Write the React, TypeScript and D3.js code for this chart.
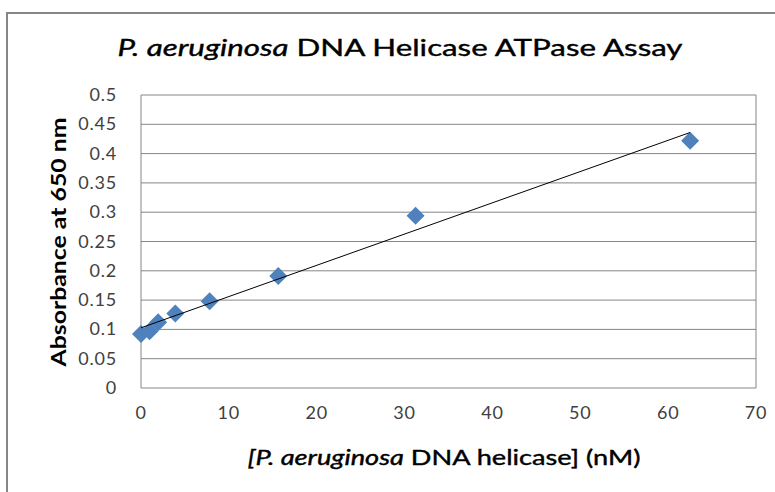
import React from "react";
import * as d3 from "d3";

const concentrations = [0, 0.977, 1.953, 3.906, 7.8125, 15.625, 31.25, 62.5];
const absorbance = [0.092, 0.097, 0.112, 0.127, 0.148, 0.191, 0.294, 0.422];
const xTicks = [0, 10, 20, 30, 40, 50, 60, 70];
const yTicks = [0, 0.05, 0.1, 0.15, 0.2, 0.25, 0.3, 0.35, 0.4, 0.45, 0.5];

const W = 775, H = 492;
const left = 141, right = 756, top = 95, bottom = 388;
const FONT = "Lato, 'Liberation Sans', sans-serif";

export default function App() {
  const x = d3.scaleLinear().domain([0, 70]).range([left, right]);
  const y = d3.scaleLinear().domain([0, 0.5]).range([bottom, top]);

  // least squares linear trendline
  const n = concentrations.length;
  const mx = d3.mean(concentrations) as number;
  const my = d3.mean(absorbance) as number;
  let sxy = 0, sxx = 0;
  for (let i = 0; i < n; i++) {
    sxy += (concentrations[i] - mx) * (absorbance[i] - my);
    sxx += (concentrations[i] - mx) ** 2;
  }
  const slope = sxy / sxx;
  const intercept = my - slope * mx;
  const xMin = d3.min(concentrations) as number;
  const xMax = d3.max(concentrations) as number;
  const line = d3.line<number>().x((d) => x(d)).y((d) => y(intercept + slope * d));

  const r = 9;
  const diamond = (cx: number, cy: number) =>
    `M${cx},${cy - r}L${cx + r},${cy}L${cx},${cy + r}L${cx - r},${cy}Z`;

  return (
    <svg width={W} height={H} style={{ position: "absolute", left: 0, top: 0, background: "#fff" }}>
      <rect x={7} y={13} width={W + 20} height={H + 20} fill="#fff" stroke="#868686" strokeWidth={2} />
      <text
        x={400}
        y={56}
        textAnchor="middle"
        fontFamily={FONT}
        fontSize={24}
        fill="#000"
        stroke="#000"
        strokeWidth={0.4}
        textLength={565}
        lengthAdjust="spacingAndGlyphs"
      >
        <tspan fontStyle="italic">P. aeruginosa</tspan> DNA Helicase ATPase Assay
      </text>
      {yTicks.map((t) => (
        <line key={"g" + t} x1={left} x2={right} y1={y(t)} y2={y(t)} stroke="#868686" strokeWidth={1} />
      ))}
      <line x1={left} x2={left} y1={top} y2={bottom} stroke="#868686" strokeWidth={1} />
      <line x1={right} x2={right} y1={top} y2={bottom} stroke="#868686" strokeWidth={1} />
      {yTicks.map((t) => (
        <text key={"yl" + t} x={117} y={y(t) + 6} textAnchor="end" fontFamily={FONT} fontSize={18} letterSpacing={0.8} fill="#404040">
          {String(t)}
        </text>
      ))}
      {xTicks.map((t) => (
        <text key={"xl" + t} x={x(t)} y={419} textAnchor="middle" fontFamily={FONT} fontSize={18} letterSpacing={0.8} fill="#404040">
          {String(t)}
        </text>
      ))}
      <text
        transform={`translate(66,242) rotate(-90)`}
        textAnchor="middle"
        fontFamily={FONT}
        fontSize={21}
        fontWeight="bold"
        fill="#000"
        textLength={249}
        lengthAdjust="spacingAndGlyphs"
      >
        Absorbance at 650 nm
      </text>
      <text
        x={444}
        y={465}
        textAnchor="middle"
        fontFamily={FONT}
        fontSize={21}
        fill="#000"
        stroke="#000"
        strokeWidth={0.4}
        textLength={393}
        lengthAdjust="spacingAndGlyphs"
      >
        <tspan fontStyle="italic">[P. aeruginosa</tspan> DNA helicase] (nM)
      </text>
      {concentrations.map((c, i) => (
        <path key={"p" + i} d={diamond(x(c), y(absorbance[i]))} fill="#4F81BD" />
      ))}
      <path d={line([xMin, xMax]) as string} fill="none" stroke="#000" strokeWidth={1} />
    </svg>
  );
}
